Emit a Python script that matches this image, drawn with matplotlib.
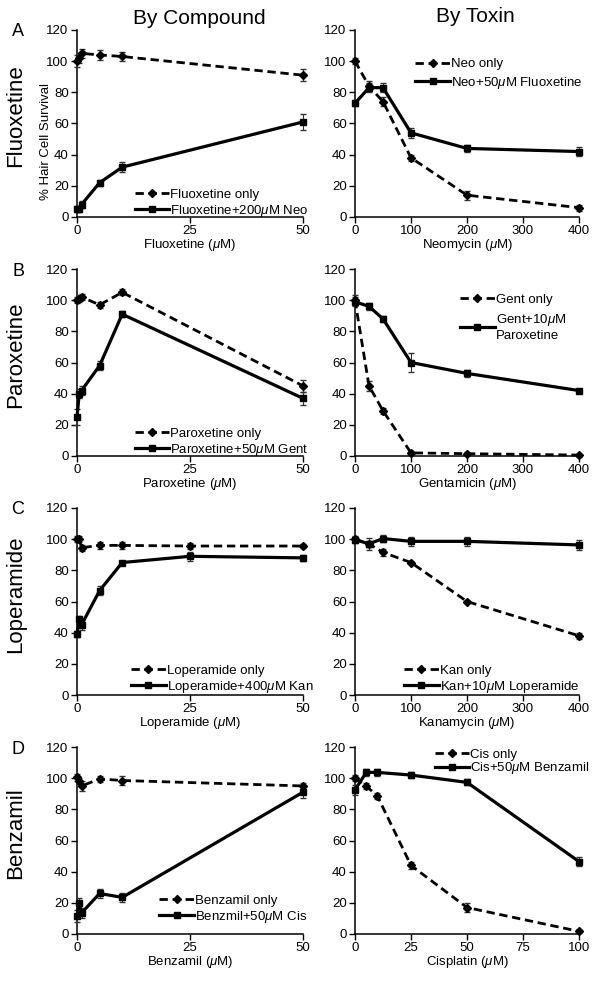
import numpy as np
import matplotlib
matplotlib.use("Agg")
import matplotlib.pyplot as plt

plt.rcParams['font.family'] = ['Liberation Sans', 'DejaVu Sans']
plt.rcParams['mathtext.fontset'] = 'custom'
plt.rcParams['mathtext.it'] = 'Liberation Sans:italic'
plt.rcParams['mathtext.rm'] = 'Liberation Sans'

MU = r'$\mu$'

# ---- data ----
# A: fluoxetine / neomycin
fluox_x = [0, 0.5, 1, 5, 10, 50]
fluox_only = [100, 102, 105, 104, 103, 91]
fluox_only_err = [4, 3, 3, 3, 3, 4]
fluox_neo = [5, 5, 8, 22, 32, 61]
fluox_neo_err = [2, 2, 2, 2, 3, 5]

neo_x = [0, 25, 50, 100, 200, 400]
neo_only = [100, 84, 74, 38, 14, 6]
neo_only_err = [2, 3, 3, 2, 3, 2]
neo_fluox = [73, 83, 83, 54, 44, 42]
neo_fluox_err = [2, 3, 3, 3, 2, 3]

# B: paroxetine / gentamicin
parox_x = [0, 0.5, 1, 5, 10, 50]
parox_only = [100, 101, 102, 97, 105, 45]
parox_only_err = [2, 2, 2, 2, 2, 4]
parox_gent = [25, 40, 42, 58, 91, 37]
parox_gent_err = [5, 3, 3, 3, 2, 4]

gent_x = [0, 25, 50, 100, 200, 400]
gent_only = [100, 45, 29, 2, 1.5, 0.6]
gent_only_err = [3, 3, 2, 1, 1, 1]
gent_parox = [99, 96, 88, 60, 53, 42]
gent_parox_err = [3, 2, 2, 6, 2, 1]

# C: loperamide / kanamycin
lop_x = [0, 0.5, 1, 5, 10, 25, 50]
lop_only = [100, 100, 94.5, 96, 96, 95.6, 95.6]
lop_only_err = [2, 2, 2, 2, 2, 2, 1]
lop_kan = [39, 49, 45, 67, 85, 89, 88]
lop_kan_err = [2, 2, 3, 3, 1, 3, 2]

kan_x = [0, 25, 50, 100, 200, 400]
kan_only = [100, 97, 91.5, 85, 60, 38]
kan_only_err = [2, 2, 2, 1, 1, 2]
kan_lop = [99.7, 97, 100.4, 98.6, 98.6, 96.3]
kan_lop_err = [2, 4, 2, 3, 3, 3]

# D: benzamil / cisplatin
benz_x = [0, 0.5, 1, 5, 10, 50]
benz_only = [100.5, 98, 95, 99.5, 98.5, 95]
benz_only_err = [2, 2, 3, 2, 3, 2]
benz_cis = [11.5, 20, 13.5, 26, 23.5, 91]
benz_cis_err = [4, 3, 3, 3, 3, 4]

cis_x = [0, 5, 10, 25, 50, 100]
cis_only = [100, 95, 88.5, 44, 17, 1.7]
cis_only_err = [2, 2, 2, 2, 3, 1]
cis_benz = [92.5, 103.7, 103.7, 102, 97.3, 46.5]
cis_benz_err = [3, 2, 2, 2, 2, 3]

panels = [
    dict(x=fluox_x, a=fluox_only, ae=fluox_only_err, b=fluox_neo, be=fluox_neo_err,
         la='Fluoxetine only', lb='Fluoxetine+200' + MU + 'M Neo', xl='Fluoxetine (' + MU + 'M)',
         xmax=50, xt=[0, 25, 50], loc='lower left', anchor=(0.255, -0.01), sp=0.15),
    dict(x=neo_x, a=neo_only, ae=neo_only_err, b=neo_fluox, be=neo_fluox_err,
         la='Neo only', lb='Neo+50' + MU + 'M Fluoxetine', xl='Neomycin (' + MU + 'M)',
         xmax=400, xt=[0, 100, 200, 300, 400], loc='upper left', anchor=(0.27, 0.85), sp=0.35),
    dict(x=parox_x, a=parox_only, ae=parox_only_err, b=parox_gent, be=parox_gent_err,
         la='Paroxetine only', lb='Paroxetine+50' + MU + 'M Gent', xl='Paroxetine (' + MU + 'M)',
         xmax=50, xt=[0, 25, 50], loc='lower left', anchor=(0.255, -0.01), sp=0.15),
    dict(x=gent_x, a=gent_only, ae=gent_only_err, b=gent_parox, be=gent_parox_err,
         la='Gent only', lb='Gent+10' + MU + 'M\nParoxetine', xl='Gentamicin (' + MU + 'M)',
         xmax=400, xt=[0, 100, 200, 300, 400], loc='upper left', anchor=(0.47, 0.87), sp=0.5),
    dict(x=lop_x, a=lop_only, ae=lop_only_err, b=lop_kan, be=lop_kan_err,
         la='Loperamide only', lb='Loperamide+400' + MU + 'M Kan', xl='Loperamide (' + MU + 'M)',
         xmax=50, xt=[0, 25, 50], loc='lower left', anchor=(0.24, 0.0), sp=0.15),
    dict(x=kan_x, a=kan_only, ae=kan_only_err, b=kan_lop, be=kan_lop_err,
         la='Kan only', lb='Kan+10' + MU + 'M Loperamide', xl='Kanamycin (' + MU + 'M)',
         xmax=400, xt=[0, 100, 200, 300, 400], loc='lower left', anchor=(0.22, 0.0), sp=0.15),
    dict(x=benz_x, a=benz_only, ae=benz_only_err, b=benz_cis, be=benz_cis_err,
         la='Benzamil only', lb='Benzmil+50' + MU + 'M Cis', xl='Benzamil (' + MU + 'M)',
         xmax=50, xt=[0, 25, 50], loc='lower left', anchor=(0.365, 0.05), sp=0.15),
    dict(x=cis_x, a=cis_only, ae=cis_only_err, b=cis_benz, be=cis_benz_err,
         la='Cis only', lb='Cis+50' + MU + 'M Benzamil', xl='Cisplatin (' + MU + 'M)',
         xmax=100, xt=[0, 25, 50, 75, 100], loc='upper left', anchor=(0.355, 0.99), sp=-0.05),
]

row_names = ['Fluoxetine', 'Paroxetine', 'Loperamide', 'Benzamil']
letters = ['A', 'B', 'C', 'D']

fig = plt.figure(figsize=(6.01, 9.84), dpi=100)

lefts = [77 / 601, 355 / 601]
widths = [226 / 601, 224 / 601]
tops_px = [30, 269, 508, 747]
h_px = 187

for i, p in enumerate(panels):
    r, c = divmod(i, 2)
    bottom = 1 - (tops_px[r] + h_px) / 984
    ax = fig.add_axes([lefts[c], bottom, widths[c], h_px / 984])

    ax.errorbar(p['x'], p['a'], yerr=p['ae'], color='black', ls=(0, (3, 1.7)), lw=2.0,
                marker='D', ms=4.5, capsize=2.5, elinewidth=0.8, ecolor='#333333',
                clip_on=False, zorder=3, label=p['la'])
    ax.errorbar(p['x'], p['b'], yerr=p['be'], color='black', ls='-', lw=2.3,
                marker='s', ms=4.5, capsize=2.5, elinewidth=0.8, ecolor='#333333',
                clip_on=False, zorder=3, label=p['lb'])

    ax.set_xlim(0, p['xmax'])
    ax.set_ylim(0, 120)
    ax.set_xticks(p['xt'])
    ax.set_yticks(range(0, 121, 20))
    for s in ['top', 'right']:
        ax.spines[s].set_visible(False)
    for s in ['left', 'bottom']:
        ax.spines[s].set_linewidth(1.1)
    ax.tick_params(direction='out', length=4, width=1.0, labelsize=9.5, pad=2)
    ax.set_xlabel(p['xl'], fontsize=9.5, labelpad=0)

    handles, labels = ax.get_legend_handles_labels()
    handles = [h[0] for h in handles]
    ax.legend(handles, labels, loc=p['loc'], bbox_to_anchor=p['anchor'], frameon=False,
              fontsize=9.5, handlelength=2.6, handletextpad=0.1, borderpad=0,
              borderaxespad=0, labelspacing=p['sp'])

    if c == 0:
        fig.text(18 / 601, 1 - (tops_px[r] + 2) / 984, letters[r], fontsize=13,
                 ha='center', va='center')
        fig.text(16 / 601, 1 - (tops_px[r] + 86) / 984, row_names[r], fontsize=16,
                 rotation=90, ha='center', va='center')

fig.text(46 / 601, 1 - 141 / 984, '% Hair Cell Survival', fontsize=9.5, rotation=90,
         ha='center', va='center')
fig.text(199 / 601, 1 - 19 / 984, 'By Compound', fontsize=15, ha='center', va='center')
fig.text(475 / 601, 1 - 17 / 984, 'By Toxin', fontsize=15, ha='center', va='center')

fig.savefig('out.png', dpi=100)
